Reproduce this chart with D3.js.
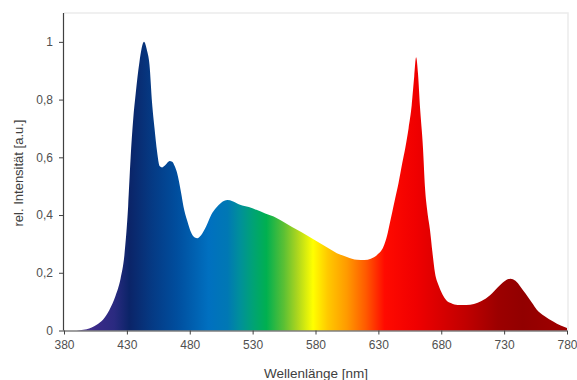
<!DOCTYPE html>
<html><head><meta charset="utf-8">
<script src="https://cdn.jsdelivr.net/npm/d3@7"></script>
<style>body{margin:0;background:#fff}svg{display:block}</style>
</head><body>
<script>
// Spectrum data: wavelength (nm) and relative intensity
const wavelengths = [380,390,398,402,406,411,416,421,425,428,431,433,435,437,440,443.6,446,448,450,452,454,456,458,461,464,466,468,470,473,475,478,481,484,486,489,493,497,501,505,510,514,520,527,533,540,549,557,565,573,581,589,597,605,613,619,624,629,634,637,639,641,643,646,649,651.5,654,656.5,658.5,660,661.5,663,665.5,667,669,671,673,675,678,681,684,688,693,700,706,712,719,725,730,735,739,743,747,752,756,762,769,775,780];
const intensity = [0,0,0.004,0.01,0.02,0.037,0.07,0.12,0.18,0.26,0.43,0.60,0.73,0.82,0.93,1.0,0.97,0.92,0.79,0.70,0.62,0.57,0.565,0.575,0.587,0.585,0.57,0.545,0.48,0.43,0.38,0.34,0.322,0.32,0.33,0.36,0.40,0.425,0.443,0.452,0.448,0.436,0.428,0.418,0.405,0.39,0.37,0.35,0.33,0.309,0.288,0.268,0.255,0.245,0.244,0.249,0.262,0.29,0.33,0.37,0.41,0.45,0.51,0.58,0.635,0.70,0.78,0.88,0.947,0.89,0.78,0.63,0.50,0.41,0.35,0.27,0.20,0.155,0.125,0.105,0.094,0.088,0.088,0.092,0.102,0.123,0.15,0.17,0.179,0.172,0.152,0.128,0.097,0.072,0.05,0.031,0.017,0.009];
const xTicks = [380,430,480,530,580,630,680,730,780];
const yTicks = [0,0.2,0.4,0.6,0.8,1];
const stopNm = [380,405,420,432,450,470,495,510,520,530,541,555,565,578,590,605,620,635,660,680,700,725,745,780];
const stopColor = ["#6a50a0","#3a2a88","#2a2a80","#0b2468","#053a84","#004e9e","#0070c0","#0078b4","#00909a","#00a276","#00b050","#5cc034","#a8d420","#ffff00","#ffc800","#ff9a00","#ff5a00","#ff0a00","#f00000","#d80000","#c00000","#9c0000","#920000","#a00000"];

const W = 577, H = 380;
const m = {left:64, right:10, top:13, bottom:49.5};
const svg = d3.select("body").append("svg").attr("width",W).attr("height",H);
const x = d3.scaleLinear().domain([380,780]).range([m.left, W - m.right]);
const y = d3.scaleLinear().domain([0,1.1]).range([H - m.bottom, m.top]);

const defs = svg.append("defs");
const grad = defs.append("linearGradient").attr("id","spec")
  .attr("gradientUnits","userSpaceOnUse")
  .attr("x1", x(380)).attr("x2", x(780)).attr("y1",0).attr("y2",0);
const xn = x.copy().range([0,1]);
stopNm.forEach((n,i)=>grad.append("stop").attr("offset", xn(n)).attr("stop-color", stopColor[i]));

// faint plot frame
svg.append("path")
  .attr("d", `M${x(380)},${y(1.1)}H${x(780)+1}V${y(0)}`)
  .attr("fill","none").attr("stroke","#ececec").attr("stroke-width",1.5);

const data = wavelengths.map((w,i)=>({w, v: intensity[i]}));
const area = d3.area().x(d=>x(d.w)).y0(y(0)).y1(d=>y(d.v)).curve(d3.curveMonotoneX);
svg.append("path").datum(data).attr("d", area).attr("fill","url(#spec)");

const axX = svg.append("g").attr("transform",`translate(0,${y(0)})`)
  .call(d3.axisBottom(x).tickValues(xTicks).tickSize(4).tickPadding(6).tickFormat(d3.format("d")));
const fmt = d => d === 0 ? "0" : (d === 1 ? "1" : d.toFixed(1).replace(".", ","));
const axY = svg.append("g").attr("transform",`translate(${x(380)},0)`)
  .call(d3.axisLeft(y).tickValues(yTicks).tickSize(5).tickPadding(6).tickFormat(fmt));
[axX, axY].forEach(g=>{
  g.select(".domain").attr("stroke","#404040").attr("stroke-width",1.2);
  g.selectAll(".tick line").attr("stroke","#404040");
  g.selectAll("text").attr("fill","#505050").style("font-family","'Liberation Sans', Arial, sans-serif").style("font-size","12px");
});
axY.select(".domain").attr("d", `M-0.5,${y(1.1)}V${y(0)}`);
axX.select(".domain").attr("d", `M${x(380)},0.5H${x(780)}`);

svg.append("text").attr("x", 316).attr("y", 378).attr("text-anchor","middle")
  .attr("fill","#404040").style("font-family","'Liberation Sans', Arial, sans-serif").style("font-size","13.5px")
  .text("Wellenlänge [nm]");
svg.append("text").attr("transform","translate(23,173) rotate(-90)").attr("text-anchor","middle")
  .attr("fill","#404040").style("font-family","'Liberation Sans', Arial, sans-serif").style("font-size","13px")
  .text("rel. Intensität [a.u.]");
</script>
</body></html>
